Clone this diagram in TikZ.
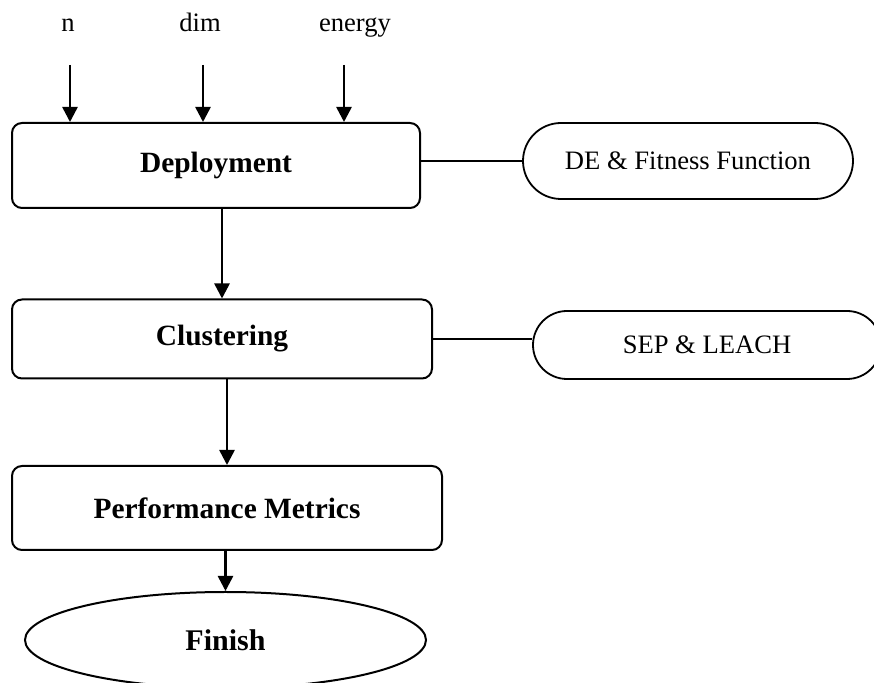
\documentclass[tikz,border=0pt]{standalone}
\usepackage{fontspec}
\setmainfont{Liberation Serif}
\usetikzlibrary{arrows.meta}
\usetikzlibrary{shapes.geometric}
\tikzset{
  box/.style= {draw, line width=1pt, rounded corners=5pt, font=\fontsize{14.7}{17}\selectfont\bfseries},
  term/.style= {draw, line width=0.9pt, rounded corners=18pt, font=\fontsize{13.3}{16}\selectfont},
  stop/.style= {draw, ellipse, line width=1pt, inner sep=0pt, font=\fontsize{15}{17}\selectfont\bfseries},
  lbl/.style= {anchor=base, font=\fontsize{13.3}{15}\selectfont},
  arr/.style= {-{Triangle[width=7.5pt,length=7.5pt]}, line width=1.3pt},
  link/.style= {line width=0.7pt},
}

\begin{document}
\begin{tikzpicture}[x=0.5pt, y=-0.5pt]
  \useasboundingbox (0,0) rectangle (874,683);

  \node [lbl] (n) at (68,32) {n} ;
  \node [lbl] (dim) at (200,32) {dim} ;
  \node [lbl] (energy) at (355,32) {energy} ;

  \node [box, minimum width=204pt, minimum height=42.5pt] (deploy) at (216,165.5) {Deployment} ;
  \node [box, minimum width=210pt, minimum height=39.5pt] (clust) at (222,339) {Clustering} ;
  \node [box, minimum width=215pt, minimum height=42pt] (perf) at (227,508) {Performance Metrics} ;
  \node [stop, minimum width=200.5pt, minimum height=48pt] (fin) at (225.5,640) {Finish} ;

  \node [term, minimum width=165pt, minimum height=38pt, rounded corners=19pt] (de) at (688,161) {DE \& Fitness Function} ;
  \node [term, minimum width=174pt, minimum height=34pt, rounded corners=17pt] (sep) at (707,345) {SEP \& LEACH} ;

  \coordinate (in1) at (70,65) ;
  \coordinate (in2) at (203,65) ;
  \coordinate (in3) at (344,65) ;

  \draw [arr] (in1) -- (in1 |- deploy.north) ;
  \draw [arr] (in2) -- (in2 |- deploy.north) ;
  \draw [arr] (in3) -- (in3 |- deploy.north) ;

  \draw [arr] (clust.north |- deploy.south) -- (clust.north) ;
  \draw [arr] (perf.north |- clust.south) -- (perf.north) ;
  \draw [arr] (perf.south -| fin.north) -- (fin.north) ;

  \draw [link] (deploy.east |- de.west) -- (de.west) ;
  \draw [link] (clust.east) -- (clust.east -| sep.west) ;
\end{tikzpicture}
\end{document}
